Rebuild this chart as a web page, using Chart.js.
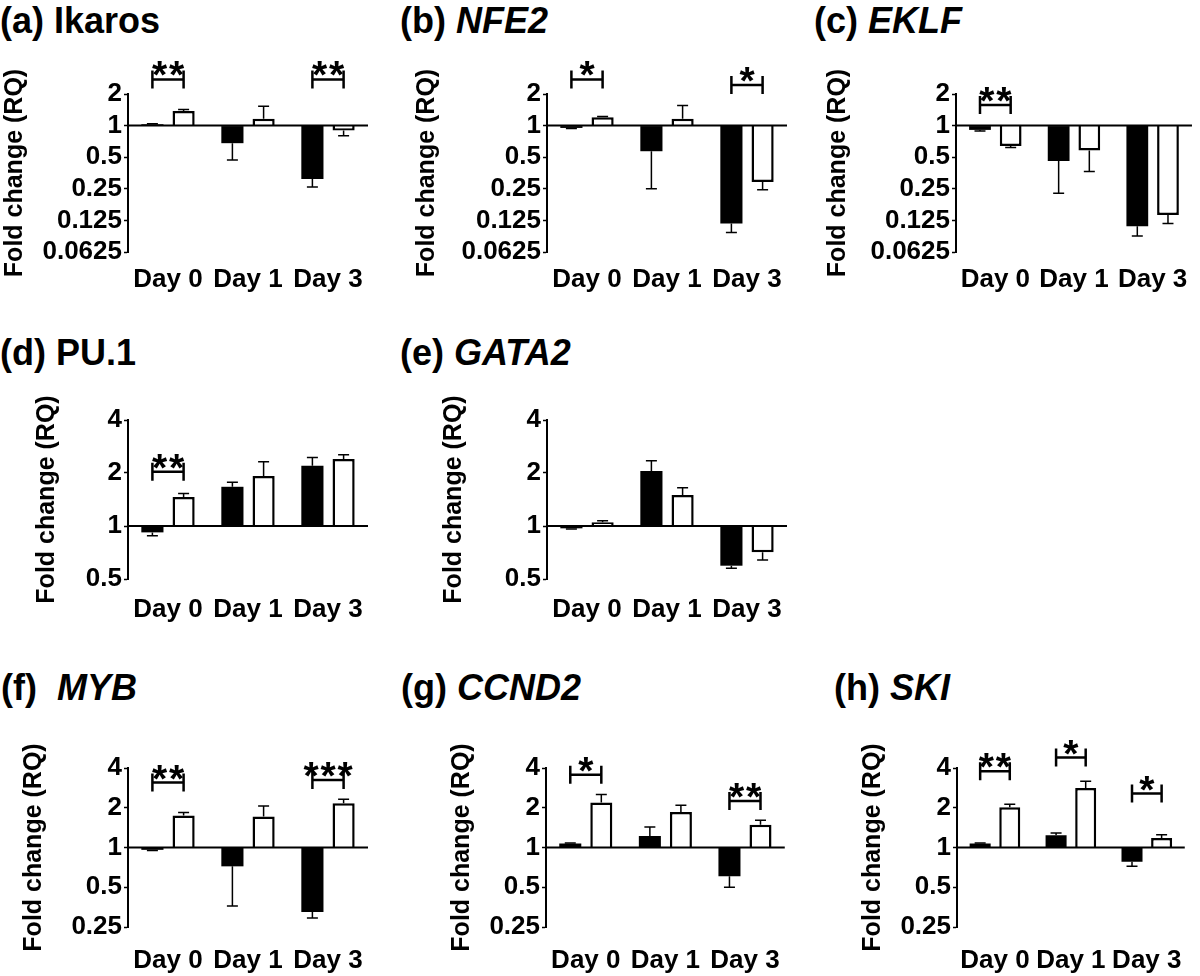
<!DOCTYPE html>
<html><head><meta charset="utf-8">
<script src="https://cdn.jsdelivr.net/npm/chart.js@4.4.1/dist/chart.umd.min.js"></script>
<style>
html,body{margin:0;padding:0;background:#fff;}
body{width:1200px;height:976px;position:relative;overflow:hidden;font-family:"Liberation Sans",Arial,Helvetica,sans-serif;}
.title{position:absolute;font-weight:bold;font-size:36px;line-height:36px;white-space:pre;color:#000;}
.title i{font-style:italic;}
canvas{position:absolute;}
</style></head><body>
<div class="title" style="left:0px;top:2.5px">(a) Ikaros</div>
<div class="title" style="left:400px;top:2.5px">(b) <i>NFE2</i></div>
<div class="title" style="left:814px;top:2.5px">(c) <i>EKLF</i></div>
<div class="title" style="left:0px;top:334.5px">(d) PU.1</div>
<div class="title" style="left:400px;top:334.5px">(e) <i>GATA2</i></div>
<div class="title" style="left:1px;top:669.5px">(f)  <i>MYB</i></div>
<div class="title" style="left:401px;top:669.5px">(g) <i>CCND2</i></div>
<div class="title" style="left:834px;top:669.5px">(h) <i>SKI</i></div>

<canvas id="ca"></canvas><canvas id="cb"></canvas><canvas id="cc"></canvas>
<canvas id="cd"></canvas><canvas id="ce"></canvas>
<canvas id="cf"></canvas><canvas id="cg"></canvas><canvas id="ch"></canvas>
<script>
// ---------- data ----------
const categories = ['Day 0', 'Day 1', 'Day 3'];
const ticksTop = [0.0625, 0.125, 0.25, 0.5, 1, 2];
const ticksMid = [0.5, 1, 2, 4];
const ticksBottom = [0.25, 0.5, 1, 2, 4];

// (a) Ikaros
const ikarosBlack = [1.03, 0.68, 0.31];
const ikarosBlackErr = [1.04, 0.47, 0.26];
const ikarosWhite = [1.38, 1.16, 0.90];
const ikarosWhiteErr = [1.42, 1.53, 0.80];
const ikarosSig = [[0, '**', 2.75], [2, '**', 2.75]];

// (b) NFE2
const nfe2Black = [0.95, 0.57, 0.117];
const nfe2BlackErr = [0.94, 0.25, 0.096];
const nfe2White = [1.20, 1.16, 0.29];
const nfe2WhiteErr = [1.22, 1.55, 0.245];
const nfe2Sig = [[0, '*', 2.75], [2, '*', 2.44]];

// (c) EKLF
const eklfBlack = [0.91, 0.46, 0.11];
const eklfBlackErr = [0.89, 0.227, 0.089];
const eklfWhite = [0.64, 0.58, 0.141];
const eklfWhiteErr = [0.62, 0.365, 0.117];
const eklfSig = [[0, '**', 1.57]];

// (d) PU.1
const pu1Black = [0.92, 1.67, 2.2];
const pu1BlackErr = [0.88, 1.77, 2.45];
const pu1White = [1.46, 1.92, 2.4];
const pu1WhiteErr = [1.53, 2.32, 2.54];
const pu1Sig = [[0, '**', 2.03]];

// (e) GATA2
const gata2Black = [0.97, 2.05, 0.595];
const gata2BlackErr = [0.96, 2.35, 0.575];
const gata2White = [1.05, 1.5, 0.71];
const gata2WhiteErr = [1.07, 1.65, 0.64];
const gata2Sig = [];

// (f) MYB
const mybBlack = [0.96, 0.72, 0.325];
const mybBlackErr = [0.95, 0.36, 0.293];
const mybWhite = [1.75, 1.72, 2.16];
const mybWhiteErr = [1.84, 2.06, 2.32];
const mybSig = [[0, '**', 3.1], [2, '***', 3.25]];

// (g) CCND2
const ccnd2Black = [1.07, 1.22, 0.605];
const ccnd2BlackErr = [1.08, 1.43, 0.50];
const ccnd2White = [2.19, 1.86, 1.49];
const ccnd2WhiteErr = [2.52, 2.09, 1.61];
const ccnd2Sig = [[0, '*', 3.56], [2, '**', 2.25]];

// (h) SKI
const skiBlack = [1.07, 1.24, 0.78];
const skiBlackErr = [1.08, 1.29, 0.72];
const skiWhite = [2.02, 2.82, 1.18];
const skiWhiteErr = [2.13, 3.17, 1.25];
const skiSig = [[0, '**', 3.78], [1, '*', 4.8], [2, '*', 2.56]];

// ---------- layout ----------
const FONT = 'Liberation Sans';
Chart.defaults.font.family = FONT;
Chart.defaults.color = '#000';

function makeAnnot(errs, sig) {
  return {
    id: 'annot',
    afterDatasetsDraw(chart) {
      const {ctx, chartArea, scales: {y}} = chart;
      ctx.save();
      ctx.strokeStyle = '#000';
      ctx.fillStyle = '#000';
      // error bars
      ctx.lineWidth = 1.5;
      errs.forEach((arr, di) => {
        const meta = chart.getDatasetMeta(di);
        meta.data.forEach((bar, i) => {
          const v = chart.data.datasets[di].data[i];
          const yv = y.getPixelForValue(v);
          const ye = y.getPixelForValue(arr[i]);
          ctx.beginPath();
          ctx.moveTo(bar.x, yv); ctx.lineTo(bar.x, ye);
          ctx.moveTo(bar.x - 5.5, ye); ctx.lineTo(bar.x + 5.5, ye);
          ctx.stroke();
        });
      });
      // baseline at 1
      const y1 = y.getPixelForValue(1);
      ctx.lineWidth = 2;
      ctx.beginPath(); ctx.moveTo(chartArea.left, y1); ctx.lineTo(chartArea.right, y1); ctx.stroke();
      // significance brackets
      const m0 = chart.getDatasetMeta(0), m1 = chart.getDatasetMeta(1);
      sig.forEach(([i, stars, level]) => {
        const x1 = m0.data[i].x, x2 = m1.data[i].x;
        const yb = y.getPixelForValue(level);
        ctx.lineWidth = 2.5;
        ctx.beginPath();
        ctx.moveTo(x1, yb); ctx.lineTo(x2, yb);
        ctx.moveTo(x1, yb - 9); ctx.lineTo(x1, yb + 9);
        ctx.moveTo(x2, yb - 9); ctx.lineTo(x2, yb + 9);
        ctx.stroke();
        ctx.font = 'bold 39px ' + FONT;
        ctx.textAlign = 'center';
        ctx.textBaseline = 'alphabetic';
        const mid = (x1 + x2) / 2, n = stars.length;
        for (let k = 0; k < n; k++) {
          ctx.fillText('*', mid + (k - (n - 1) / 2) * 17, yb + 9);
        }
      });
      ctx.restore();
    }
  };
}

function panel(id, L, black, blackErr, white, whiteErr, sig, tickVals) {
  const cv = document.getElementById(id);
  cv.width = L.w; cv.height = L.h;
  cv.style.left = L.left + 'px'; cv.style.top = L.top + 'px';
  const pl = L.yTitle - 15;
  const yWidth = L.areaLeft - pl;
  const pr = L.w - L.areaLeft - 240;
  const pt = L.areaTop - L.top;
  const xH = L.top + L.h - L.areaBottom;
  const tickFont = {family: FONT, weight: 'bold', size: 26};
  new Chart(cv, {
    type: 'bar',
    data: {
      labels: categories,
      datasets: [
        {data: black, backgroundColor: '#000', borderWidth: 0, base: 1,
         categoryPercentage: 0.78, barPercentage: 0.71},
        {data: white, backgroundColor: '#fff', borderColor: '#000', borderWidth: 2.5, base: 1,
         categoryPercentage: 0.78, barPercentage: 0.71}
      ]
    },
    options: {
      responsive: false, animation: false, devicePixelRatio: 1, events: [],
      layout: {padding: {left: pl, right: pr, top: pt, bottom: 0}},
      plugins: {legend: {display: false}, tooltip: {enabled: false}},
      scales: {
        x: {
          type: 'category',
          grid: {display: false, drawTicks: false},
          border: {display: false},
          ticks: {font: tickFont, color: '#000', padding: L.xPad, maxRotation: 0, autoSkip: false},
          afterFit(s) { s.height = xH; }
        },
        y: {
          type: 'logarithmic',
          min: tickVals[0], max: tickVals[tickVals.length - 1],
          afterBuildTicks(s) { s.ticks = tickVals.map(v => ({value: v})); },
          ticks: {font: tickFont, color: '#000', padding: 2, autoSkip: false,
                  callback: v => String(v)},
          grid: {drawOnChartArea: false, drawTicks: true, tickLength: 4, color: '#000', tickWidth: 1.5},
          border: {display: true, color: '#000', width: 2},
          title: {display: true, text: 'Fold change (RQ)', color: '#000', padding: 0,
                  font: {family: FONT, weight: 'bold', size: 25}},
          afterFit(s) { s.width = yWidth; }
        }
      }
    },
    plugins: [makeAnnot([blackErr, whiteErr], sig)]
  });
}

const row1 = {top: 40, h: 270, areaTop: 94, areaBottom: 252, xPad: 12};
const row2 = {top: 380, h: 250, areaTop: 420, areaBottom: 579, xPad: 15};
const row3 = {top: 710, h: 266, areaTop: 768, areaBottom: 927, xPad: 18};

panel('ca', {...row1, left: 0, w: 400, areaLeft: 128, yTitle: 15}, ikarosBlack, ikarosBlackErr, ikarosWhite, ikarosWhiteErr, ikarosSig, ticksTop);
panel('cb', {...row1, left: 400, w: 400, areaLeft: 147, yTitle: 27}, nfe2Black, nfe2BlackErr, nfe2White, nfe2WhiteErr, nfe2Sig, ticksTop);
panel('cc', {...row1, left: 800, w: 400, areaLeft: 156, yTitle: 38}, eklfBlack, eklfBlackErr, eklfWhite, eklfWhiteErr, eklfSig, ticksTop);
panel('cd', {...row2, left: 0, w: 400, areaLeft: 128, yTitle: 47}, pu1Black, pu1BlackErr, pu1White, pu1WhiteErr, pu1Sig, ticksMid);
panel('ce', {...row2, left: 400, w: 400, areaLeft: 147, yTitle: 54}, gata2Black, gata2BlackErr, gata2White, gata2WhiteErr, gata2Sig, ticksMid);
panel('cf', {...row3, left: 0, w: 400, areaLeft: 128, yTitle: 34}, mybBlack, mybBlackErr, mybWhite, mybWhiteErr, mybSig, ticksBottom);
panel('cg', {...row3, left: 400, w: 400, areaLeft: 146, yTitle: 62}, ccnd2Black, ccnd2BlackErr, ccnd2White, ccnd2WhiteErr, ccnd2Sig, ticksBottom);
panel('ch', {...row3, left: 800, w: 400, areaLeft: 157, yTitle: 73}, skiBlack, skiBlackErr, skiWhite, skiWhiteErr, skiSig, ticksBottom);
</script>
</body></html>
